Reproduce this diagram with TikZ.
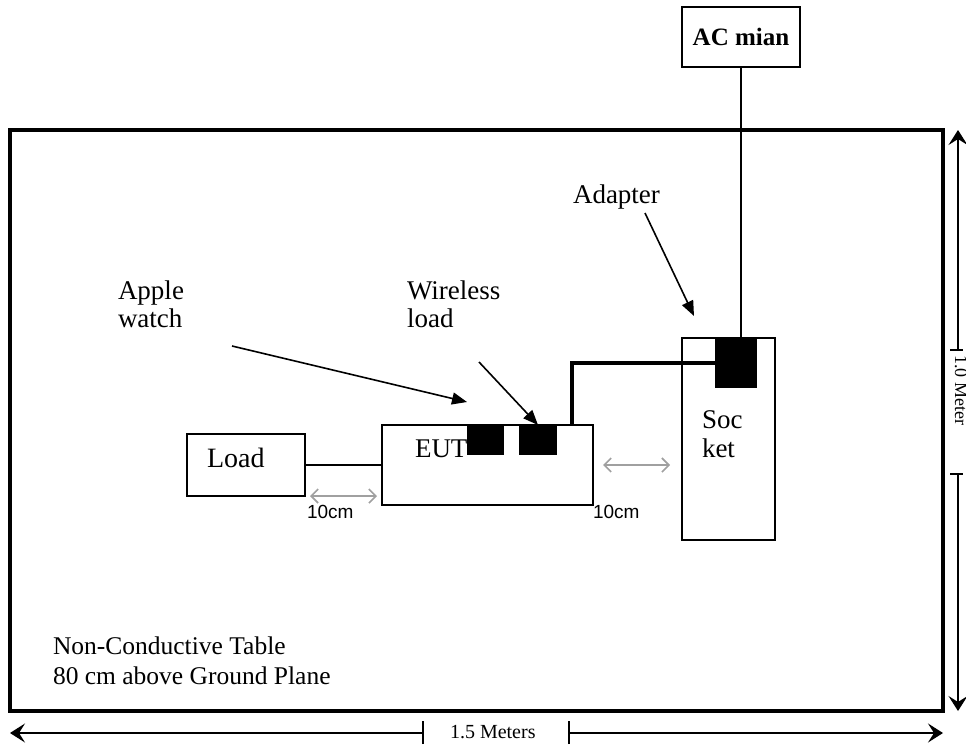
\documentclass[tikz,border=0pt]{standalone}
\usepackage{fontspec}
\setmainfont{Liberation Serif}
\newfontfamily\arialfont{Liberation Sans}
\usetikzlibrary{arrows.meta}
\tikzset{
  box/.style={draw, line width=2pt, inner sep=0pt, outer sep=0pt, anchor=north west},
  blk/.style={fill=black, inner sep=0pt, outer sep=0pt, anchor=north west},
  lbl/.style={inner sep=0pt, outer sep=0pt, anchor=base west, font=\fontsize{27}{28}\selectfont},
  cmlbl/.style={inner sep=0pt, outer sep=0pt, anchor=base west, font=\arialfont\fontsize{19}{20}\selectfont},
  annot/.style={line width=1.6pt, -{Triangle[length=15pt,width=12pt]}},
  grayarr/.style={draw={rgb,255:red,160;green,160;blue,160}, line width=1.6pt, {Straight Barb[length=7pt,width=14pt]}-{Straight Barb[length=7pt,width=14pt]}},
  dimline/.style={line width=1.4pt, -{Stealth[length=15pt,width=19pt,inset=6pt]}},
  tick/.style={line width=1.6pt},
  wire/.style={line width=1.4pt},
  thickwire/.style={line width=3.3pt},
}
\begin{document}
\begin{tikzpicture}[x=1pt,y=-1pt]
\useasboundingbox (0,0) rectangle (966,747);
% table
\node[box, line width=3.4pt, minimum width=933pt, minimum height=581pt] (table) at (10,130) {};
% AC main
\node[box, line width=1.6pt, minimum width=118pt, minimum height=60pt] (ac) at (682,7) {};
\node[inner sep=0pt, font=\bfseries\fontsize{25}{26}\selectfont] (actext) at (ac.center) {AC mian};
% socket
\node[box, minimum width=93pt, minimum height=202pt] (sock) at (682,338) {};
\node[blk, minimum width=42pt, minimum height=50pt] (adp) at (715,338) {};
\node[lbl] (soc1) at (702,428) {Soc};
\node[lbl] (soc2) at (702,457) {ket};
% EUT
\node[box, minimum width=211pt, minimum height=80pt] (eut) at (382,425) {};
\node[blk, minimum width=37pt, minimum height=30pt] (aw) at (467,425) {};
\node[blk, minimum width=38pt, minimum height=30pt] (wl) at (519,425) {};
\node[lbl] (euttext) at (415,457) {EUT};
% Load
\node[box, minimum width=118pt, minimum height=62pt] (load) at (187,434) {};
\node[lbl, font=\fontsize{28}{29}\selectfont] (loadtext) at (207,467) {Load};
% wires
\draw[wire] (ac.south) -- (ac.south |- adp.north);
\coordinate (wc) at (572,0);
\draw[thickwire] (adp.west) -| (wc |- eut.north);
\draw[wire, line width=1.6pt] (load.east) -- (load.east -| eut.west);
% gray 10cm arrows
\coordinate (g1a) at (310,496);
\coordinate (g1b) at (377,496);
\coordinate (g2a) at (603,465);
\coordinate (g2b) at (670,465);
\draw[grayarr] (g1a) -- (g1b);
\draw[grayarr] (g2a) -- (g2b);
\node[cmlbl] (cm1) at (307,518) {10cm};
\node[cmlbl] (cm2) at (593,518) {10cm};
% labels
\node[lbl] (apple1) at (118,299) {Apple};
\node[lbl] (apple2) at (118,327) {watch};
\node[lbl] (wless1) at (407,299) {Wireless};
\node[lbl] (wless2) at (407,327) {load};
\node[lbl] (adlbl) at (573,203) {Adapter};
\node[lbl, font=\fontsize{25.5}{26}\selectfont] (nc1) at (53,654) {Non-Conductive Table};
\node[lbl, font=\fontsize{25.5}{26}\selectfont] (nc2) at (53,684) {80 cm above Ground Plane};
% annotation arrows
\coordinate (aws) at (232,346);
\coordinate (awt) at (467,402);
\draw[annot] (aws) -- (awt);
\coordinate (wls) at (479,362);
\draw[annot] (wls) -- (wl.north);
\coordinate (ads) at (645,213);
\coordinate (adt) at (694,316);
\draw[annot] (ads) -- (adt);
% bottom dimension
\coordinate (bl) at (10,733);
\coordinate (br) at (943,733);
\coordinate (bt1) at (423,733);
\coordinate (bt2) at (569,733);
\draw[dimline] (bt1) -- (bl);
\draw[dimline] (bt2) -- (br);
\draw[tick] ([yshift=-11pt]bt1) -- ([yshift=12pt]bt1);
\draw[tick] ([yshift=-11pt]bt2) -- ([yshift=12pt]bt2);
\node[lbl, font=\fontsize{20}{21}\selectfont] (w15) at (450,738) {1.5 Meters};
% right dimension
\coordinate (rt) at (958,130);
\coordinate (rb) at (958,711);
\coordinate (rt1) at (958,350);
\coordinate (rt2) at (958,474);
\draw[dimline] (rt1) -- (rt);
\draw[dimline] (rt2) -- (rb);
\draw[tick] ([xshift=-8pt]rt1) -- ([xshift=5pt]rt1);
\draw[tick] ([xshift=-8pt]rt2) -- ([xshift=5pt]rt2);
\node[inner sep=0pt, anchor=base west, rotate=-90, font=\fontsize{18}{19}\selectfont] (h10) at (955,355) {1.0 Meter};
\end{tikzpicture}
\end{document}
